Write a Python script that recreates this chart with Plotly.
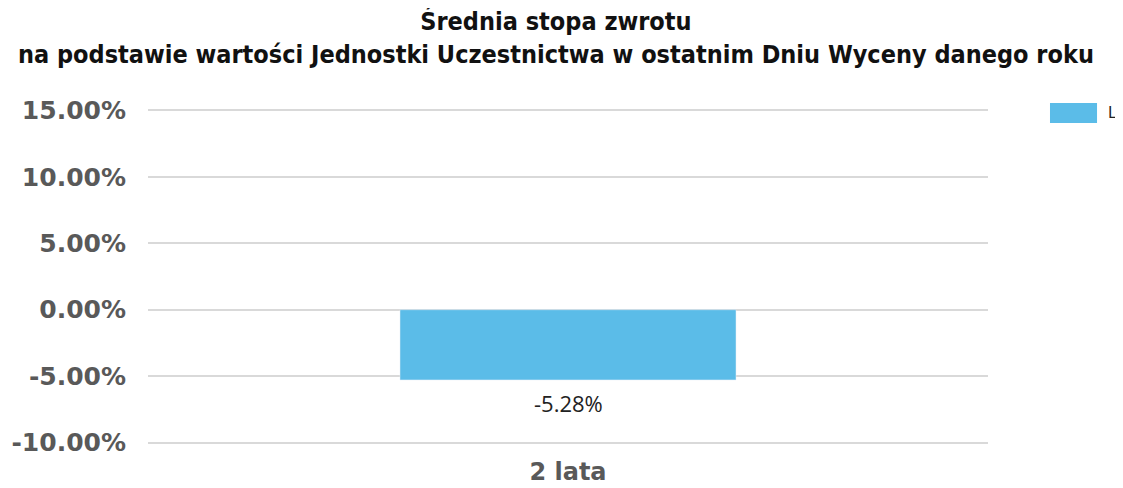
import plotly.graph_objects as go

categories = ["2 lata"]
values = [-5.28]
series_name = "L"
bar_color = "#5BBCE8"
tick_vals = [-10, -5, 0, 5, 10, 15]
tick_text = ["-10.00%", "-5.00%", "0.00%", "5.00%", "10.00%", "15.00%"]
title_lines = ["Średnia stopa zwrotu",
               "na podstawie wartości Jednostki Uczestnictwa w ostatnim Dniu Wyceny danego roku"]

fig = go.Figure()
fig.add_trace(go.Bar(
    x=categories, y=values, name=series_name,
    marker=dict(color=bar_color),
    width=0.4,
    showlegend=False,
))

# data labels below the bars
for c, v in zip(categories, values):
    fig.add_annotation(text=f"{v:.2f}%", x=c, y=v, xref="x", yref="y",
                       xanchor="center", yanchor="top", yshift=-6,
                       showarrow=False,
                       font=dict(family="Open Sans", size=22, color="#222222"))

# legend entry drawn manually (large swatch like the reference)
fig.add_shape(type="rect", xref="paper", yref="paper",
              x0=1.0738, x1=1.1298, y0=0.958, y1=1.018,
              fillcolor=bar_color, line=dict(width=0))
fig.add_annotation(text=series_name, xref="paper", yref="paper",
                   x=1.140, y=0.988, xanchor="left", yanchor="middle",
                   showarrow=False,
                   font=dict(family="DejaVu Sans", size=15, color="#222222"))

fig.add_annotation(text="<b>" + "<br>".join(title_lines) + "</b>",
                   xref="paper", yref="paper", x=0.4863, y=1.314,
                   xanchor="center", yanchor="top", showarrow=False,
                   font=dict(family="DejaVu Sans Condensed", size=25, color="#111111"))

fig.update_layout(
    width=1115, height=480,
    paper_bgcolor="white", plot_bgcolor="white",
    margin=dict(l=140, r=135, t=101, b=44),
    showlegend=False,
    yaxis=dict(range=[-10.1, 15.1], tickvals=tick_vals, ticktext=tick_text,
               showgrid=True, gridcolor="#D9D9D9", gridwidth=2,
               zeroline=True, zerolinecolor="#D9D9D9", zerolinewidth=2,
               tickfont=dict(family="DejaVu Sans", size=25, color="#595959", weight="bold"),
               ticklabelstandoff=21, showline=False, automargin=False),
    xaxis=dict(showgrid=False, showline=False,
               tickfont=dict(family="DejaVu Sans", size=24, color="#595959", weight="bold"),
               ticklabelstandoff=11, automargin=False),
    font=dict(family="DejaVu Sans"),
)
fig.write_html("out.html")
